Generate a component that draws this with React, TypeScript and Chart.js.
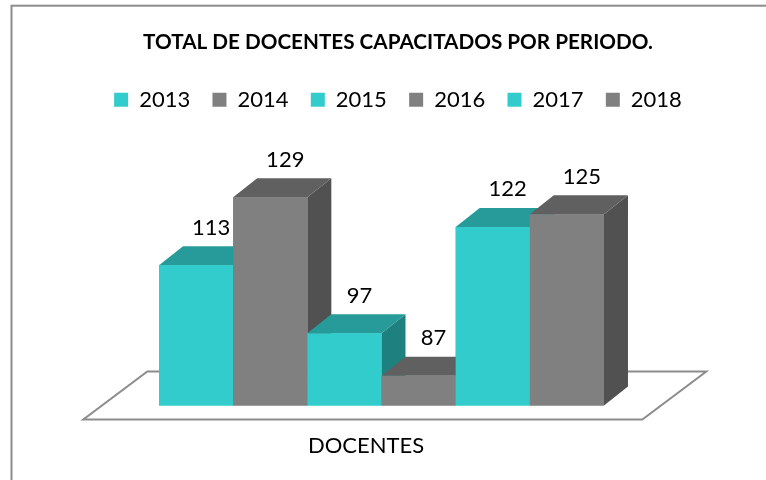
import React, { useEffect, useRef } from "react";
import { Chart, registerables } from "chart.js";

Chart.register(...registerables);

// ---- data ----
const categories = ["DOCENTES"];
const years = ["2013", "2014", "2015", "2016", "2017", "2018"];
const values = [113, 129, 97, 87, 122, 125];
const chartTitle = "TOTAL DE DOCENTES CAPACITADOS POR PERIODO.";

// ---- styles ----
const frontColors = ["#33CCCC", "#808080", "#33CCCC", "#808080", "#33CCCC", "#808080"];
const topColors = ["#279B9A", "#606060", "#279B9A", "#606060", "#279B9A", "#606060"];
const sideColors = ["#1F817F", "#515151", "#1F817F", "#515151", "#1F817F", "#515151"];
const yMin = 80;
const yMax = 147;
const DX = 24;
const DY = 19;
const FONT = "Lato";

const bar3dPlugin = {
  id: "bar3d",
  beforeDraw(chart: any) {
    const ctx = chart.ctx;
    ctx.save();
    ctx.fillStyle = "#ffffff";
    ctx.fillRect(0, 0, chart.width, chart.height);
    ctx.strokeStyle = "#8c8c8c";
    ctx.lineWidth = 2;
    ctx.strokeRect(11.5, 5.7, chart.width + 40, chart.height + 40);
    ctx.restore();
  },
  beforeDatasetsDraw(chart: any) {
    const ctx = chart.ctx;
    const { left, right } = chart.chartArea;
    const base = chart.scales.y.getPixelForValue(yMin);
    const k = 4 / 3;
    const front = 14;
    const back = 34;
    ctx.save();
    ctx.beginPath();
    ctx.moveTo(left - front * k, base + front);
    ctx.lineTo(right - front * k, base + front);
    ctx.lineTo(right + back * k, base - back);
    ctx.lineTo(left + back * k, base - back);
    ctx.closePath();
    ctx.fillStyle = "#ffffff";
    ctx.fill();
    ctx.strokeStyle = "#8c8c8c";
    ctx.lineWidth = 2;
    ctx.stroke();
    ctx.restore();
  },
  afterDatasetsDraw(chart: any) {
    const ctx = chart.ctx;
    const floorY = chart.scales.y.getPixelForValue(yMin);
    const metas = chart.getSortedVisibleDatasetMetas().slice().sort((a: any, b: any) => a.index - b.index);
    ctx.save();
    metas.forEach((meta: any) => {
      const i = meta.index;
      meta.data.forEach((el: any) => {
        const { x, y, width } = el.getProps(["x", "y", "width"], true);
        const base = floorY;
        const l = x - width / 2;
        const r = x + width / 2;
        // side face
        ctx.fillStyle = sideColors[i];
        ctx.beginPath();
        ctx.moveTo(r, y);
        ctx.lineTo(r + DX, y - DY);
        ctx.lineTo(r + DX, base - DY);
        ctx.lineTo(r, base);
        ctx.closePath();
        ctx.fill();
        // top face
        ctx.fillStyle = topColors[i];
        ctx.beginPath();
        ctx.moveTo(l, y);
        ctx.lineTo(r, y);
        ctx.lineTo(r + DX, y - DY);
        ctx.lineTo(l + DX, y - DY);
        ctx.closePath();
        ctx.fill();
        // front face
        ctx.fillStyle = frontColors[i];
        ctx.fillRect(l, y, width, base - y);
      });
    });
    // value labels
    ctx.fillStyle = "#000000";
    ctx.font = `22px ${FONT}`;
    ctx.textAlign = "center";
    ctx.textBaseline = "middle";
    metas.forEach((meta: any) => {
      const ds = chart.data.datasets[meta.index];
      meta.data.forEach((el: any, j: number) => {
        const { x, y } = el.getProps(["x", "y"], true);
        ctx.fillText(String(ds.data[j]), x + 15, y - 37.6);
      });
    });
    ctx.restore();
  },
};

export default function App() {
  const ref = useRef<HTMLCanvasElement | null>(null);

  useEffect(() => {
    if (!ref.current) return;
    const chart = new Chart(ref.current, {
      type: "bar",
      data: {
        labels: categories,
        datasets: years.map((yr, i) => ({
          label: yr,
          data: [values[i]],
          backgroundColor: frontColors[i],
          borderWidth: 0,
        })),
      },
      options: {
        animation: false,
        responsive: false,
        devicePixelRatio: 1,
        layout: { padding: { left: 80, right: 50, top: 0, bottom: 20.4 } },
        datasets: {
          bar: { categoryPercentage: 0.796, barPercentage: 1 },
        },
        plugins: {
          title: {
            display: true,
            text: chartTitle,
            color: "#000000",
            font: { family: FONT, size: 20.7, weight: "bold", lineHeight: 1.2 },
            padding: { top: 30, bottom: 11.6 },
          },
          legend: {
            display: true,
            position: "top",
            labels: {
              color: "#000000",
              font: { family: FONT, size: 22 },
              boxWidth: 14,
              boxHeight: 14,
              padding: 22.3,
            },
          },
          tooltip: { enabled: false },
        },
        scales: {
          x: {
            grid: { display: false, drawTicks: false },
            border: { display: false },
            ticks: {
              color: "#000000",
              font: { family: FONT, size: 22, lineHeight: 1.2 },
              padding: 27.7,
              labelOffset: -15.5,
            },
            afterFit: (axis: any) => {
              axis.height = 54.1;
            },
          },
          y: {
            position: "left",
            min: yMin,
            max: yMax,
            grid: { display: false, drawTicks: false },
            border: { display: false },
            ticks: { display: false },
            afterFit: (axis: any) => {
              axis.width = 22;
            },
          },
          yRight: {
            type: "linear",
            position: "right",
            grid: { display: false, drawTicks: false },
            border: { display: false },
            ticks: { display: false },
            afterFit: (axis: any) => {
              axis.width = 55;
            },
          },
        },
      },
      plugins: [bar3dPlugin],
    });
    return () => chart.destroy();
  }, []);

  return (
    <div style={{ position: "fixed", left: 0, top: 0, width: 766, height: 480 }}>
      <canvas ref={ref} width={766} height={480} style={{ width: 766, height: 480 }} />
    </div>
  );
}
